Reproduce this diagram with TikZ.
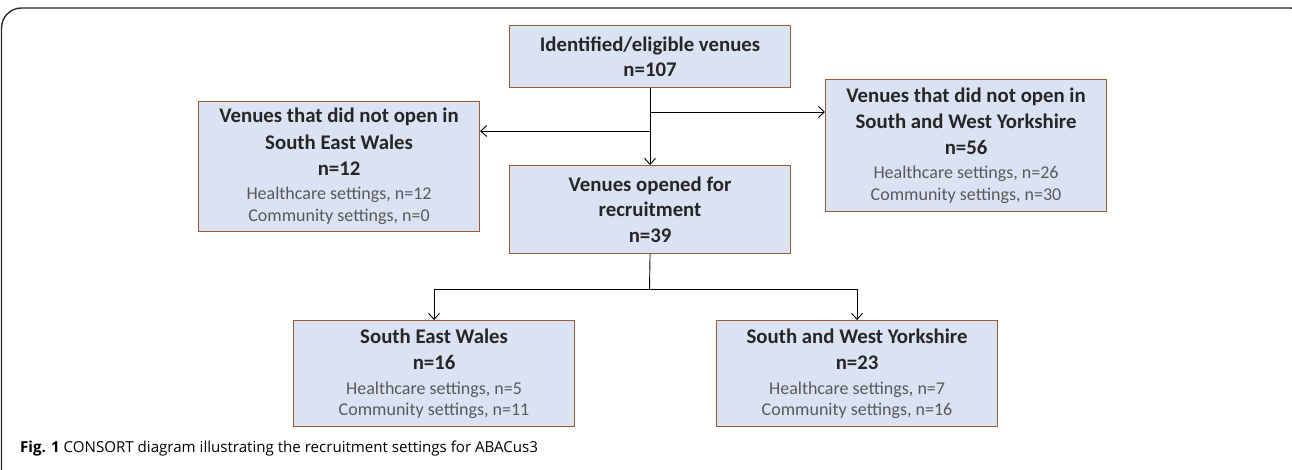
\documentclass[tikz,border=0pt]{standalone}
\usepackage{fontspec}
\setmainfont{Carlito}
\newfontfamily\capfont{Open Sans}
\usetikzlibrary{arrows.meta}
\definecolor{boxfill}{HTML}{DAE3F3}
\definecolor{boxline}{RGB}{160,90,50}
\definecolor{titlecol}{HTML}{262626}
\definecolor{subcol}{HTML}{595959}
\definecolor{framecol}{HTML}{2A2A2A}
\newcommand\boxtitle{\fontsize{20.8}{21.5}\selectfont\bfseries\color{titlecol}}
\newcommand\boxsub{\fontsize{18}{21.5}\selectfont\mdseries\color{subcol}}
\tikzset{
  cbox/.style={draw=boxline, line width=1.1pt, fill=boxfill, minimum width=281pt,
    inner sep=0pt, align=center, anchor=north west, font={\fontsize{18}{21.5}\selectfont}},
  conn/.style={draw=black, line width=0.9pt},
  arr/.style={conn, -{Straight Barb[length=6pt,width=11pt,line width=0.9pt]}},
}
\begin{document}
\begin{tikzpicture}[x=1pt,y=-1pt]
\useasboundingbox (0,0) rectangle (1292,470);
% outer frame
\draw[framecol, line width=1.4pt, rounded corners=20pt] (1.5,490) -- (1.5,8) -- (1310,8) -- (1310,490);
% boxes
\node[cbox, minimum height=62pt] (top) at (509,25) {\boxtitle Identified/eligible venues\\[4pt] \boxtitle n=107};
\node[cbox, minimum height=130pt] (lbox) at (198,101) {\boxtitle Venues that did not open in\\[5pt] \boxtitle South East Wales\\[4.5pt] \boxtitle n=12\\[3pt] \boxsub Healthcare settings, n=12\\[0.5pt] \boxsub Community settings, n=0};
\node[cbox, minimum height=132pt] (rbox) at (825,79) {\boxtitle Venues that did not open in\\[4.5pt] \boxtitle South and West Yorkshire\\[4.5pt] \boxtitle n=56\\[3pt] \boxsub Healthcare settings, n=26\\ \boxsub Community settings, n=30};
\node[cbox, minimum height=88pt] (mid) at (509,165) {\boxtitle Venues opened for\\[4pt] \boxtitle recruitment\\[4pt] \boxtitle n=39};
\node[cbox, minimum height=106pt] (bl) at (293,320) {\boxtitle South East Wales\\[5pt] \boxtitle n=16\\[3pt] \boxsub Healthcare settings, n=5\\ \boxsub Community settings, n=11};
\node[cbox, minimum height=106pt] (br) at (716,320) {\boxtitle South and West Yorkshire\\[5pt] \boxtitle n=23\\[3pt] \boxsub Healthcare settings, n=7\\ \boxsub Community settings, n=16};
% connectors
\coordinate (jr) at (649.5,112);
\coordinate (jl) at (649.5,131);
\coordinate (split) at (649.5,289);
\draw[arr] (top.south) -- (mid.north);
\draw[arr] (jr) -- (jr -| rbox.west);
\draw[arr] (jl) -- (jl -| lbox.east);
\draw[conn] (mid.south) -- (split);
\draw[arr] (split) -| (bl.north);
\draw[arr] (split) -| (br.north);
% caption
\node[anchor=west, inner sep=0pt, font=\capfont\fontsize{15.1}{18}\selectfont, text=black] (cap) at (20,449)
  {\textbf{Fig. 1} CONSORT diagram illustrating the recruitment settings for ABACus3};
\end{tikzpicture}
\end{document}
